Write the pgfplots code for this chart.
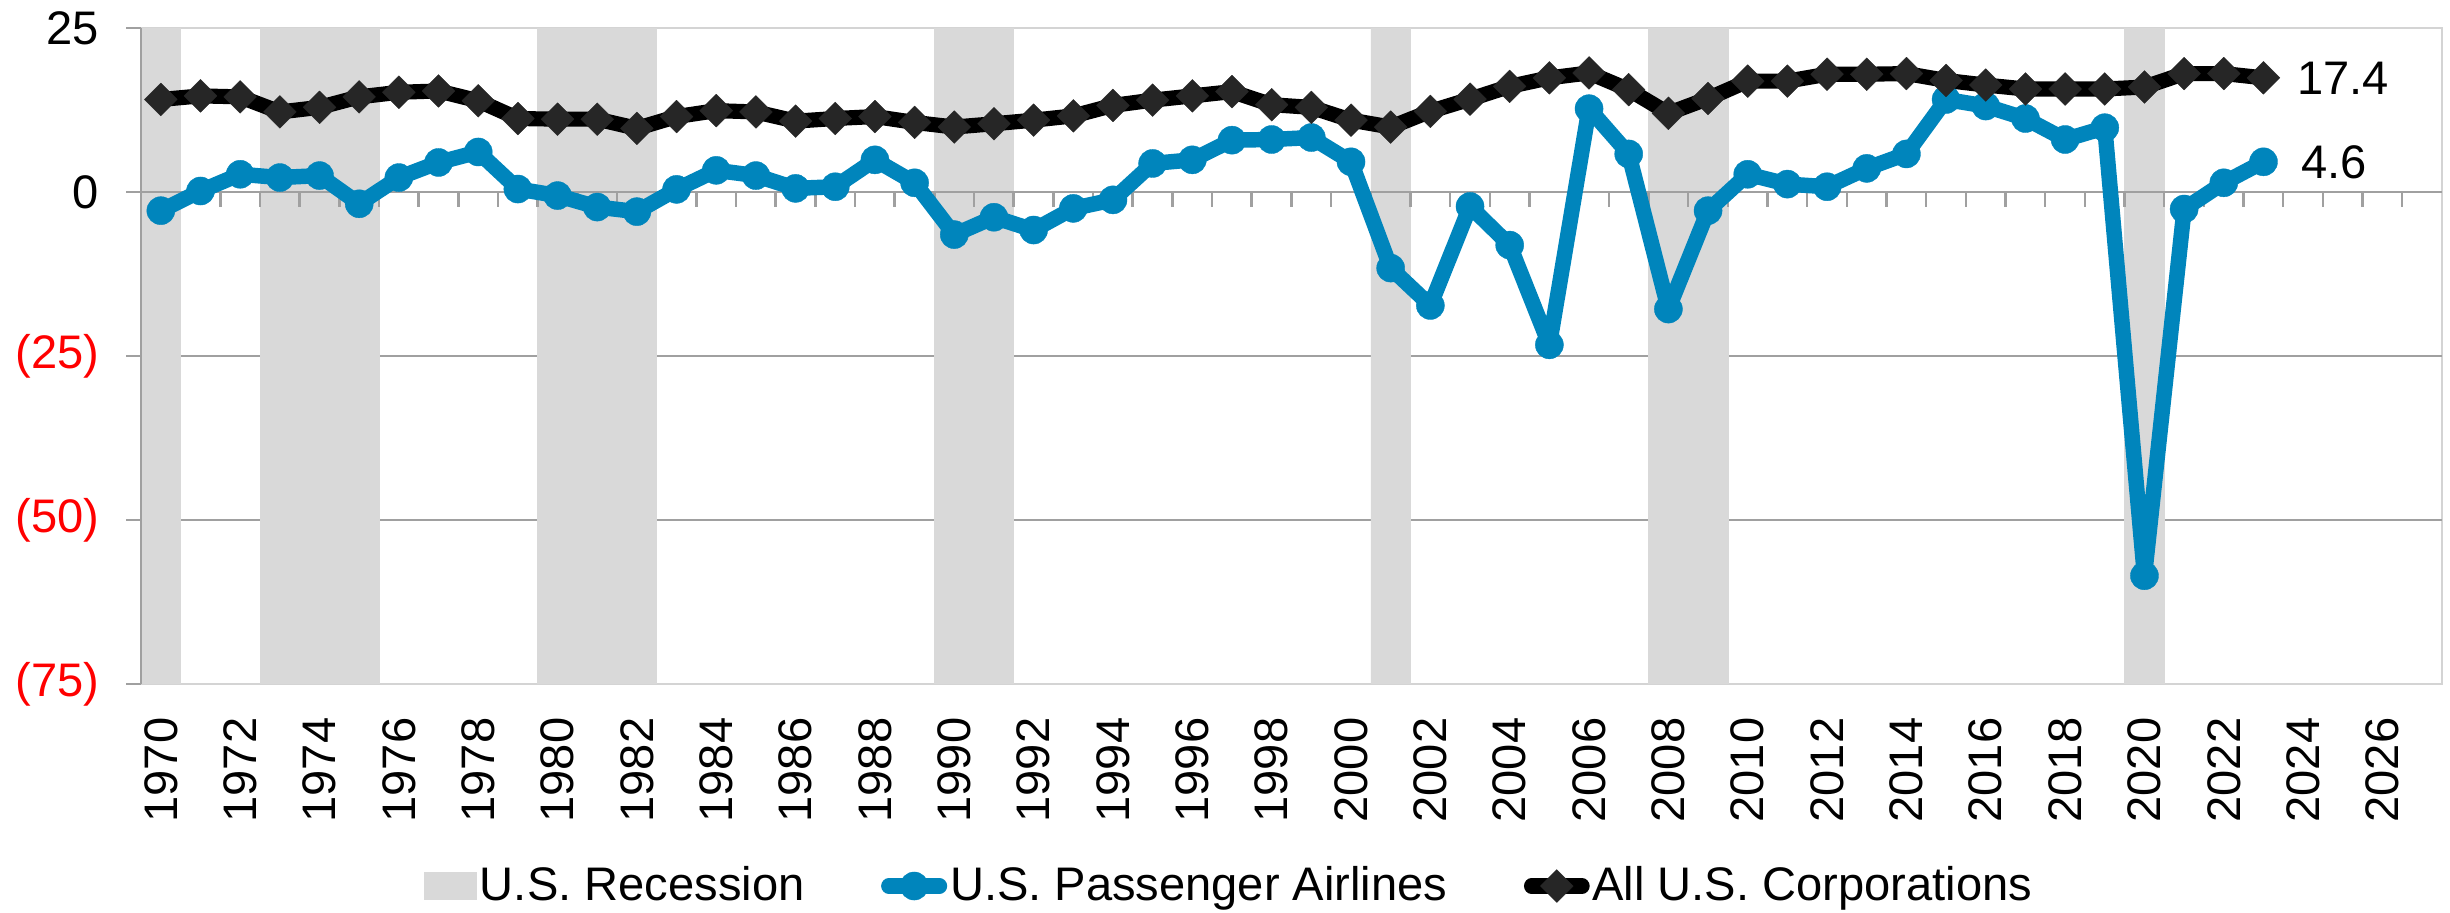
\documentclass[border=0pt]{standalone}
\usepackage{fontspec}
\setmainfont{Liberation Sans}
\usepackage{pgfplots}
\usepackage{pgfplotstable}
\pgfplotsset{compat=1.18}

\definecolor{airblue}{RGB}{0,133,188}
\definecolor{dgray}{RGB}{38,38,38}
\definecolor{recgray}{RGB}{217,217,217}
\definecolor{gridgray}{RGB}{160,160,160}
\definecolor{bordergray}{RGB}{212,212,212}
\definecolor{axisgray}{RGB}{160,160,160}

\newcommand{\lblfont}{\fontsize{13.4}{16}\selectfont}

\pgfplotsset{
  mylinelegend/.style={legend image code/.code={\draw[mark repeat=2,mark phase=2,##1] plot coordinates {(2.2pt,0pt) (9.4pt,0pt) (16.6pt,0pt)};}},
  myreclegend/.style={legend image code/.code={\fill[recgray] (0pt,-3.85pt) rectangle (14.8pt,3.85pt);}},
}

\pgfplotstableread{
year air corp
1970 -2.85 14.1
1971 0.15 14.65
1972 2.7 14.5
1973 2.2 12.2
1974 2.5 12.9
1975 -1.8 14.5
1976 2.2 15.2
1977 4.5 15.4
1978 6.1 13.9
1979 0.45 11.2
1980 -0.55 11.1
1981 -2.3 11.1
1982 -3.0 9.7
1983 0.4 11.5
1984 3.3 12.4
1985 2.5 12.2
1986 0.55 10.8
1987 0.8 11.2
1988 4.9 11.5
1989 1.4 10.6
1990 -6.5 9.9
1991 -3.85 10.4
1992 -5.8 10.95
1993 -2.5 11.6
1994 -1.2 13.2
1995 4.35 14.0
1996 4.9 14.65
1997 7.9 15.3
1998 8.0 13.3
1999 8.3 12.9
2000 4.6 10.95
2001 -11.6 9.9
2002 -17.3 12.3
2003 -2.2 14.15
2004 -8.1 16.1
2005 -23.3 17.4
2006 12.7 18.15
2007 5.8 15.6
2008 -17.85 12.0
2009 -2.85 14.25
2010 2.7 16.9
2011 1.2 16.9
2012 0.8 17.95
2013 3.6 17.95
2014 5.8 18.05
2015 14.1 17.0
2016 13.1 16.3
2017 11.2 15.7
2018 8.0 15.7
2019 9.8 15.7
2020 -58.5 16.0
2021 -2.6 18.05
2022 1.4 18.05
2023 4.6 17.4
}\series

\pgfplotstableread{
year top bot
1970 25 -75
1973 25 -75
1974 25 -75
1975 25 -75
1980 25 -75
1981 25 -75
1982 25 -75
1990 25 -75
1991 25 -75
2001 25 -75
2008 25 -75
2009 25 -75
2020 25 -75
}\recession

\begin{document}
\begin{tikzpicture}
% background axis: border, grid, tick labels, recession bands
\begin{axis}[name=A, scale only axis, width=654.7pt, height=186.65pt,
  xmin=1969.5, xmax=2027.5, ymin=-75, ymax=25,
  axis line style={draw=bordergray, line width=0.7pt},
  xtick={1970,1972,...,2026},
  /pgf/number format/1000 sep={},
  /pgf/number format/assume math mode=true,
  xticklabel style={rotate=90, anchor=east, inner sep=0pt, font=\lblfont},
  xticklabel shift=9.4pt,
  ytick={-75,-50,-25,0,25},
  yticklabels={\textcolor{red}{(75)},\textcolor{red}{(50)},\textcolor{red}{(25)},0\hspace{0.17em},25\hspace{0.17em}},
  yticklabel style={anchor=east, inner sep=0pt, font=\lblfont},
  yticklabel shift=11.7pt,
  tick style={draw=none},
  major tick length=0pt,
  extra y ticks={-50,-25}, extra y tick labels={},
  extra y tick style={grid=major},
  grid style={draw=gridgray, line width=0.7pt},
]
\addplot[ybar, bar width=1, bar shift=0pt, fill=recgray, draw=recgray, line width=0.2pt] table[x=year, y=top] {\recession};
\addplot[ybar, bar width=1, bar shift=0pt, fill=recgray, draw=recgray, line width=0.2pt] table[x=year, y=bot] {\recession};
\end{axis}
% foreground axis: zero line with ticks, left axis, series, legend
\begin{axis}[name=B, scale only axis, width=654.7pt, height=186.65pt,
  xmin=1969.5, xmax=2027.5, ymin=-75, ymax=25,
  axis x line*=middle, axis y line*=left,
  axis line style={draw=axisgray, line width=0.7pt},
  xtick={1970.5,1971.5,...,2026.5}, xticklabels={},
  ytick={-75,-50,-25,0,25}, yticklabels={},
  tick align=outside, major tick length=4.2pt,
  tick style={draw=axisgray, line width=0.7pt},
  legend columns=-1,
  legend style={draw=none, fill=none, at={(0.473,-0.308)}, anchor=center,
    font=\lblfont, nodes={inner sep=0.8pt},
    /tikz/every even column/.append style={column sep=21pt}},
]
\addlegendimage{myreclegend}
\addlegendentry{U.S. Recession}
\addplot[color=airblue, line width=4.4pt, line join=round, line cap=round,
  mark=*, mark size=4pt, mark options={fill=airblue, draw=airblue, line width=0.1pt}, mylinelegend]
  table[x=year, y=air] {\series};
\addlegendentry{U.S. Passenger Airlines}
\addplot[color=black, line width=4.3pt, line join=round, line cap=round,
  mark=square*, mark size=3.3pt, mark options={rotate=45, fill=dgray, draw=dgray, line width=0.1pt}, mylinelegend]
  table[x=year, y=corp] {\series};
\addlegendentry{All U.S. Corporations}
\node[anchor=west, xshift=9.4pt, inner sep=0pt, font=\lblfont] at (axis cs:2023,17.4) {17.4};
\node[anchor=west, xshift=10.5pt, inner sep=0pt, font=\lblfont] at (axis cs:2023,4.6) {4.6};
\end{axis}
\pgfresetboundingbox
\path ([shift={(-40.12pt,-65.16pt)}]A.south west) rectangle ([shift={(2.28pt,7.97pt)}]A.north east);
\end{tikzpicture}
\end{document}
